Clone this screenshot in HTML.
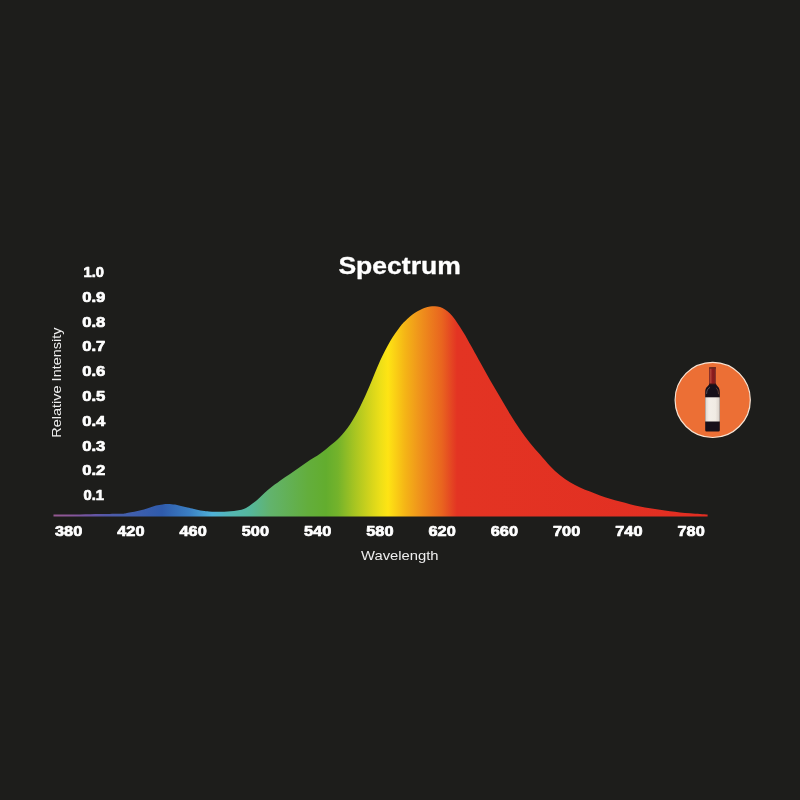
<!DOCTYPE html>
<html lang="en">
<head>
<meta charset="utf-8">
<title>Spectrum</title>
<style>
  html, body { margin: 0; padding: 0; background: #1d1d1b; }
  body { width: 800px; height: 800px; overflow: hidden; }
  svg { display: block; }
  .title { font-family: "Liberation Sans", "DejaVu Sans", sans-serif; font-weight: bold; font-size: 23.4px; fill: #ffffff; stroke: #ffffff; stroke-width: 0.3px; }
  .num { font-family: "Liberation Sans", "DejaVu Sans", sans-serif; font-weight: bold; font-size: 14px; fill: #ffffff; stroke: #ffffff; stroke-width: 0.7px; stroke-linejoin: round; }
  .lab { font-family: "Liberation Sans", "DejaVu Sans", sans-serif; font-weight: normal; font-size: 12.5px; fill: #eeeeee; }
</style>
</head>
<body>
<svg width="800" height="800" viewBox="0 0 800 800">
  <defs>
    <linearGradient id="spec" gradientUnits="userSpaceOnUse" x1="53.5" y1="0" x2="707.6" y2="0">
      <stop offset="0.0000" stop-color="#94588f"/>
      <stop offset="0.0283" stop-color="#88569a"/>
      <stop offset="0.0558" stop-color="#6e55a4"/>
      <stop offset="0.0787" stop-color="#5558a8"/>
      <stop offset="0.1093" stop-color="#4460ae"/>
      <stop offset="0.1659" stop-color="#2f5bac"/>
      <stop offset="0.2087" stop-color="#3b80c4"/>
      <stop offset="0.2423" stop-color="#4fb1d8"/>
      <stop offset="0.2729" stop-color="#54b7b2"/>
      <stop offset="0.3004" stop-color="#55b79c"/>
      <stop offset="0.3310" stop-color="#62b36d"/>
      <stop offset="0.3891" stop-color="#63ae3c"/>
      <stop offset="0.4166" stop-color="#63ad2e"/>
      <stop offset="0.4349" stop-color="#74b32b"/>
      <stop offset="0.4594" stop-color="#a5c422"/>
      <stop offset="0.4869" stop-color="#d8d61b"/>
      <stop offset="0.4992" stop-color="#ecdf18"/>
      <stop offset="0.5114" stop-color="#fee414"/>
      <stop offset="0.5374" stop-color="#f5b516"/>
      <stop offset="0.5565" stop-color="#f0981b"/>
      <stop offset="0.5756" stop-color="#ec7d1d"/>
      <stop offset="0.5939" stop-color="#e9641f"/>
      <stop offset="0.6062" stop-color="#e54a22"/>
      <stop offset="0.6169" stop-color="#e33423"/>
      <stop offset="1.0000" stop-color="#e22e22"/>
    </linearGradient>
    <linearGradient id="foil" x1="0" y1="0" x2="1" y2="0">
      <stop offset="0" stop-color="#98302a"/>
      <stop offset="0.2" stop-color="#b03e36"/>
      <stop offset="0.45" stop-color="#8e1b1e"/>
      <stop offset="0.75" stop-color="#841a1c"/>
      <stop offset="1" stop-color="#8c4030"/>
    </linearGradient>
    <linearGradient id="lbl" x1="0" y1="0" x2="1" y2="0">
      <stop offset="0" stop-color="#ddd5cd"/>
      <stop offset="0.25" stop-color="#f3eee8"/>
      <stop offset="0.7" stop-color="#f1ebe4"/>
      <stop offset="1" stop-color="#d9d0c8"/>
    </linearGradient>
  </defs>
  <rect x="0" y="0" width="800" height="800" fill="#1d1d1b"/>
  <path fill="url(#spec)" d="M53.5,514.6 C57.9,514.6 72.2,514.5 80.0,514.4 C87.8,514.3 93.7,514.2 100.0,514.1 C106.3,514.0 113.8,513.9 118.0,513.8 C122.2,513.7 122.8,513.6 125.0,513.4 C127.2,513.1 128.9,512.7 131.0,512.3 C133.1,511.9 135.3,511.5 137.5,511.0 C139.7,510.5 141.9,510.0 144.0,509.4 C146.1,508.8 148.0,508.1 150.0,507.5 C152.0,506.9 153.9,506.1 156.0,505.6 C158.1,505.1 160.5,504.7 162.5,504.4 C164.5,504.1 165.9,504.0 168.0,504.0 C170.1,504.0 172.8,504.3 175.0,504.6 C177.2,504.9 178.9,505.5 181.0,506.0 C183.1,506.5 185.3,507.0 187.5,507.5 C189.7,508.0 191.5,508.3 194.0,508.9 C196.5,509.4 200.0,510.4 202.5,510.8 C205.0,511.2 206.9,511.3 209.0,511.5 C211.1,511.7 213.0,511.8 215.0,511.8 C217.0,511.9 218.9,511.9 221.0,511.8 C223.1,511.8 225.3,511.6 227.5,511.5 C229.7,511.4 231.9,511.2 234.0,511.0 C236.1,510.8 238.0,510.6 240.0,510.1 C242.0,509.6 243.9,509.1 246.0,508.0 C248.1,506.9 250.3,505.2 252.5,503.6 C254.7,502.0 256.9,500.0 259.0,498.2 C261.1,496.4 263.2,494.3 265.0,492.6 C266.8,490.9 267.5,490.2 270.0,488.2 C272.5,486.2 276.7,483.2 280.0,480.8 C283.3,478.4 286.7,476.3 290.0,474.0 C293.3,471.7 296.7,469.3 300.0,467.0 C303.3,464.7 306.7,462.2 310.0,460.0 C313.3,457.8 316.7,456.2 320.0,453.8 C323.3,451.4 326.7,448.6 330.0,445.8 C333.3,443.0 336.7,440.6 340.0,437.0 C343.3,433.4 346.7,429.5 350.0,424.5 C353.3,419.5 356.7,413.6 360.0,407.0 C363.3,400.4 366.7,392.7 370.0,385.0 C373.3,377.3 376.7,368.2 380.0,361.0 C383.3,353.8 386.7,347.3 390.0,341.6 C393.3,335.9 397.5,330.2 400.0,326.8 C402.5,323.4 403.3,322.9 405.0,321.2 C406.7,319.5 408.3,317.9 410.0,316.5 C411.7,315.1 413.3,313.9 415.0,312.8 C416.7,311.7 418.3,310.8 420.0,310.0 C421.7,309.2 423.3,308.4 425.0,307.8 C426.7,307.2 428.3,306.9 430.0,306.6 C431.7,306.3 433.3,306.1 435.0,306.2 C436.7,306.3 438.3,306.4 440.0,307.0 C441.7,307.6 443.3,308.4 445.0,309.5 C446.7,310.6 448.3,311.8 450.0,313.5 C451.7,315.2 453.3,317.2 455.0,319.5 C456.7,321.8 458.3,324.4 460.0,327.0 C461.7,329.6 463.3,332.2 465.0,335.0 C466.7,337.8 467.5,339.5 470.0,344.0 C472.5,348.5 476.7,356.0 480.0,362.0 C483.3,368.0 486.7,374.2 490.0,380.0 C493.3,385.8 496.7,391.3 500.0,397.0 C503.3,402.7 506.7,408.6 510.0,414.0 C513.3,419.4 516.7,424.7 520.0,429.5 C523.3,434.3 526.7,438.8 530.0,443.0 C533.3,447.2 536.7,450.7 540.0,454.5 C543.3,458.3 546.7,462.5 550.0,466.0 C553.3,469.5 556.7,472.6 560.0,475.3 C563.3,478.0 566.7,480.3 570.0,482.3 C573.3,484.3 576.7,485.9 580.0,487.5 C583.3,489.1 586.7,490.3 590.0,491.6 C593.3,492.9 596.7,494.3 600.0,495.5 C603.3,496.7 606.7,497.8 610.0,498.8 C613.3,499.8 616.7,500.7 620.0,501.6 C623.3,502.5 626.7,503.4 630.0,504.2 C633.3,505.0 636.7,505.7 640.0,506.4 C643.3,507.1 646.7,507.6 650.0,508.2 C653.3,508.8 656.7,509.3 660.0,509.8 C663.3,510.3 666.7,510.8 670.0,511.2 C673.3,511.6 676.7,512.0 680.0,512.4 C683.3,512.8 686.7,513.0 690.0,513.3 C693.3,513.6 697.1,513.8 700.0,514.0 C702.9,514.2 706.3,514.4 707.6,514.5 L707.6,516.5 L53.5,516.5 Z"/>
  <text class="title" transform="translate(399.6,273.6) scale(1.135,1)" text-anchor="middle">Spectrum</text>
  <g class="num">
    <text transform="translate(83.6,277.0) scale(1.05,1)">1.0</text>
    <text transform="translate(82.2,301.8) scale(1.19,1)">0.9</text>
    <text transform="translate(82.2,326.6) scale(1.19,1)">0.8</text>
    <text transform="translate(82.2,351.4) scale(1.19,1)">0.7</text>
    <text transform="translate(82.2,376.2) scale(1.19,1)">0.6</text>
    <text transform="translate(82.2,401.0) scale(1.19,1)">0.5</text>
    <text transform="translate(82.2,425.8) scale(1.19,1)">0.4</text>
    <text transform="translate(82.2,450.6) scale(1.19,1)">0.3</text>
    <text transform="translate(82.2,475.4) scale(1.19,1)">0.2</text>
    <text transform="translate(83.6,500.2) scale(1.05,1)">0.1</text>
  </g>
  <g class="num">
    <text transform="translate(55.00,535.5) scale(1.165,1)">380</text>
    <text transform="translate(117.25,535.5) scale(1.165,1)">420</text>
    <text transform="translate(179.50,535.5) scale(1.165,1)">460</text>
    <text transform="translate(241.75,535.5) scale(1.165,1)">500</text>
    <text transform="translate(304.00,535.5) scale(1.165,1)">540</text>
    <text transform="translate(366.25,535.5) scale(1.165,1)">580</text>
    <text transform="translate(428.50,535.5) scale(1.165,1)">620</text>
    <text transform="translate(490.75,535.5) scale(1.165,1)">660</text>
    <text transform="translate(553.00,535.5) scale(1.165,1)">700</text>
    <text transform="translate(615.25,535.5) scale(1.165,1)">740</text>
    <text transform="translate(677.50,535.5) scale(1.165,1)">780</text>
  </g>
  <text class="lab" transform="translate(399.8,560.3) scale(1.185,1)" text-anchor="middle">Wavelength</text>
  <text class="lab" transform="translate(61.0,382.6) rotate(-90) scale(1.16,1)" text-anchor="middle">Relative Intensity</text>
  <g>
    <circle cx="712.7" cy="399.9" r="37.6" fill="#ec6f35" stroke="#f8e3d3" stroke-width="1.2"/>
    <!-- wine bottle -->
    <path fill="#17101a" d="M709.3,368 Q709.3,367.2 710.1,367.2 L715.2,367.2 Q716,367.2 716,368 L716,383.6 C716.3,386.6 719.8,386.4 719.8,392 L719.8,430.3 Q719.8,431.6 718.5,431.6 L706.5,431.6 Q705.2,431.6 705.2,430.3 L705.2,392 C705.2,386.4 709,386.6 709.3,383.6 Z"/>
    <rect x="709.3" y="367.2" width="6.7" height="16.8" rx="0.7" fill="url(#foil)"/>
    <rect x="709.3" y="367.2" width="6.7" height="1.6" rx="0.6" fill="#6e2a1f"/>
    <rect x="709.5" y="383.2" width="6.3" height="1.2" fill="#5a1a18" opacity="0.8"/>
    <path d="M706.6,393.5 C706.7,390 708,388.6 709.6,387.6" fill="none" stroke="#8a8790" stroke-width="0.9" stroke-linecap="round" opacity="0.6"/>
    <path d="M718.5,393.8 C718.4,390.4 717.4,389 716.2,388" fill="none" stroke="#a0604a" stroke-width="0.8" stroke-linecap="round" opacity="0.6"/>
    <rect x="705.25" y="397.3" width="14.5" height="24.2" fill="url(#lbl)"/>
  </g>
</svg>
</body>
</html>
